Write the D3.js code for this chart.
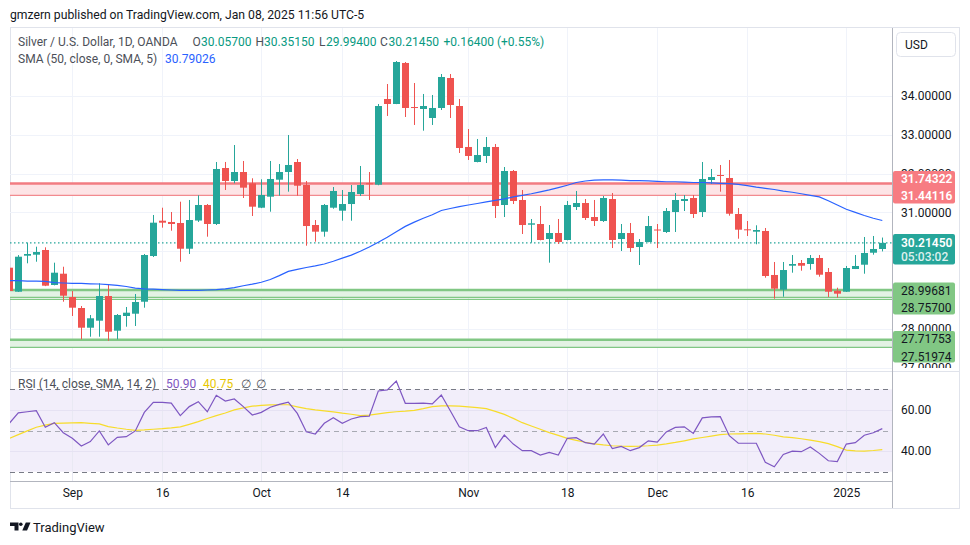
<!DOCTYPE html>
<html>
<head>
<meta charset="utf-8">
<script src="https://cdn.jsdelivr.net/npm/d3@7"></script>
<style>
body { margin: 0; background: #fff; }
svg text { font-family: Roboto, "Noto Sans", sans-serif; }
</style>
</head>
<body>
<svg id="chart" width="970" height="545"></svg>
<script>
// trading days shown (OANDA daily bars)
const dates = [
  "2024-08-22","2024-08-23","2024-08-26","2024-08-27","2024-08-28","2024-08-29","2024-08-30",
  "2024-09-02","2024-09-03","2024-09-04","2024-09-05","2024-09-06","2024-09-09","2024-09-10","2024-09-11","2024-09-12","2024-09-13",
  "2024-09-16","2024-09-17","2024-09-18","2024-09-19","2024-09-20","2024-09-23","2024-09-24","2024-09-25","2024-09-26","2024-09-27","2024-09-30",
  "2024-10-01","2024-10-02","2024-10-03","2024-10-04","2024-10-07","2024-10-08","2024-10-09","2024-10-10","2024-10-11",
  "2024-10-14","2024-10-15","2024-10-16","2024-10-17","2024-10-18","2024-10-21","2024-10-22","2024-10-23","2024-10-24","2024-10-25",
  "2024-10-28","2024-10-29","2024-10-30","2024-10-31",
  "2024-11-01","2024-11-04","2024-11-05","2024-11-06","2024-11-07","2024-11-08","2024-11-11","2024-11-12","2024-11-13","2024-11-14","2024-11-15",
  "2024-11-18","2024-11-19","2024-11-20","2024-11-21","2024-11-22","2024-11-25","2024-11-26","2024-11-27","2024-11-28","2024-11-29",
  "2024-12-02","2024-12-03","2024-12-04","2024-12-05","2024-12-06","2024-12-09","2024-12-10","2024-12-11","2024-12-12","2024-12-13",
  "2024-12-16","2024-12-17","2024-12-18","2024-12-19","2024-12-20","2024-12-23","2024-12-24","2024-12-26","2024-12-27","2024-12-30","2024-12-31",
  "2025-01-02","2025-01-03","2025-01-06","2025-01-07","2025-01-08"
]

const open = [
  29.575, 28.956, 29.884, 29.91, 30.031, 29.129, 29.42, 28.82, 28.536, 28.028,
  28.209, 28.845, 27.951, 28.33, 28.389, 28.698, 29.876, 30.786, 30.753, 30.727,
  30.064, 30.79, 31.191, 30.701, 32.144, 31.809, 32.041, 31.75, 31.121, 31.405,
  31.843, 32.041, 32.299, 31.706, 30.675, 30.503, 31.121, 31.044, 31.216, 31.474,
  31.75, 31.714, 33.923, 33.794, 34.851, 33.716, 33.665, 33.433, 33.691, 34.464,
  33.742, 32.686, 32.299, 32.454, 32.686, 31.191, 32.067, 31.32, 30.683, 30.701,
  30.314, 30.469, 30.289, 31.139, 31.242, 30.881, 30.778, 31.345, 30.314, 30.469,
  30.108, 30.237, 30.559, 30.495, 31.01, 31.294, 31.371, 31.01, 31.835, 31.964,
  31.887, 30.959, 30.564, 30.503, 30.521, 29.387, 29.008, 29.626, 29.696, 29.67,
  29.825, 29.464, 28.982, 28.956, 29.541, 29.652, 29.961, 30.057
]
const high = [
  29.60, 29.90, 30.219, 30.116, 30.10, 29.704, 29.60, 28.974, 28.588, 28.356,
  29.173, 29.129, 28.381, 28.562, 28.897, 29.928, 30.933, 31.121, 31.01, 31.276,
  31.32, 31.441, 31.216, 32.299, 32.30, 32.737, 32.325, 31.879, 31.853, 32.325,
  32.247, 32.995, 32.376, 31.809, 30.804, 31.216, 31.655, 31.577, 31.706, 32.196,
  32.041, 33.794, 34.309, 34.902, 34.876, 34.335, 34.052, 34.026, 34.567, 34.567,
  33.923, 33.149, 32.892, 32.943, 32.763, 32.17, 32.093, 31.577, 30.83, 31.165,
  30.675, 30.83, 31.294, 31.552, 31.345, 31.32, 31.423, 31.50, 30.701, 30.727,
  30.314, 30.907, 30.701, 31.113, 31.50, 31.448, 31.448, 32.299, 32.119, 32.222,
  32.351, 31.113, 30.778, 30.668, 30.598, 29.722, 29.722, 29.902, 29.773, 29.902,
  29.902, 29.567, 29.059, 29.619, 29.902, 30.366, 30.392, 30.3515
]
const low = [
  28.95, 28.95, 29.688, 29.729, 29.10, 29.12, 28.698, 28.33, 27.729, 27.796,
  27.796, 27.693, 27.729, 28.054, 28.072, 28.544, 29.85, 30.606, 30.528, 29.729,
  29.928, 30.753, 30.374, 30.675, 31.577, 31.75, 31.371, 30.907, 31.11, 31.018,
  31.43, 31.534, 31.43, 30.142, 30.245, 30.374, 31.095, 30.786, 30.786, 31.423,
  31.32, 31.70, 33.485, 33.79, 33.459, 33.253, 33.106, 33.253, 33.639, 33.433,
  32.531, 32.351, 32.29, 32.273, 30.856, 30.881, 31.216, 30.443, 30.219, 30.28,
  29.704, 30.186, 30.28, 31.062, 30.804, 30.649, 30.753, 30.082, 30.005, 29.979,
  29.644, 30.23, 30.082, 30.469, 30.495, 31.036, 30.856, 30.881, 31.732, 31.534,
  30.915, 30.322, 30.392, 30.178, 29.317, 28.776, 28.827, 29.446, 29.497, 29.523,
  29.343, 28.82, 28.802, 28.95, 29.54, 29.42, 29.91, 29.994
]
const close = [
  28.974, 29.858, 29.928, 29.979, 29.111, 29.446, 28.853, 28.544, 28.028, 28.271,
  28.845, 27.925, 28.356, 28.415, 28.691, 29.902, 30.735, 30.735, 30.701, 30.064,
  30.804, 31.191, 30.701, 32.119, 31.809, 32.041, 31.637, 31.147, 31.448, 31.861,
  32.041, 32.222, 31.688, 30.649, 30.503, 31.191, 31.552, 31.216, 31.526, 31.706,
  31.724, 33.742, 33.794, 34.876, 33.691, 33.691, 33.742, 33.691, 34.49, 33.768,
  32.66, 32.454, 32.479, 32.686, 31.165, 32.067, 31.294, 30.675, 30.719, 30.289,
  30.469, 30.237, 31.191, 31.242, 30.856, 30.778, 31.371, 30.289, 30.469, 30.082,
  30.237, 30.649, 30.533, 31.036, 31.32, 31.345, 30.959, 31.861, 31.912, 31.946,
  30.966, 30.554, 30.546, 30.546, 29.361, 29.034, 29.515, 29.67, 29.626, 29.825,
  29.394, 28.956, 28.905, 29.567, 29.619, 29.954, 30.057, 30.2145
]

// SMA 50
const sma50 = [
  29.24, 29.24, 29.23, 29.23, 29.22, 29.19, 29.18, 29.17, 29.17, 29.16,
  29.155, 29.14, 29.12, 29.09, 29.05, 29.03, 29.02, 29.01, 29.00, 28.99,
  28.99, 28.99, 29.00, 29.01, 29.03, 29.06, 29.11, 29.15, 29.20, 29.27,
  29.37, 29.48, 29.53, 29.58, 29.62, 29.67, 29.74, 29.82, 29.90, 30.00,
  30.11, 30.23, 30.36, 30.50, 30.64, 30.75, 30.85, 30.94, 31.05, 31.10,
  31.15, 31.19, 31.23, 31.27, 31.31, 31.35, 31.40, 31.44, 31.48, 31.53,
  31.58, 31.64, 31.70, 31.77, 31.81, 31.83, 31.84, 31.84, 31.83, 31.82,
  31.82, 31.81, 31.80, 31.79, 31.79, 31.78, 31.77, 31.77, 31.76, 31.75,
  31.74, 31.72, 31.69, 31.65, 31.62, 31.59, 31.55, 31.52, 31.48, 31.44,
  31.40, 31.30, 31.19, 31.08, 31.00, 30.92, 30.85, 30.79026
]

// RSI 14 and its SMA 14
const rsi = [
  53.5, 58.6, 59.1, 59.6, 51.6, 53.8, 48.9, 46.2, 42.5, 44.6,
  49.8, 43.0, 46.7, 47.0, 49.8, 58.8, 63.7, 63.7, 63.3, 57.2,
  61.6, 64.0, 59.1, 67.1, 64.3, 65.3, 61.6, 57.5, 58.8, 61.3,
  62.7, 63.8, 58.3, 49.4, 48.3, 53.5, 56.2, 53.5, 55.6, 56.7,
  57.0, 69.2, 69.7, 74.0, 63.2, 63.2, 63.3, 62.9, 67.2, 59.6,
  51.8, 49.9, 49.9, 51.5, 41.7, 47.8, 43.4, 40.2, 40.2, 38.1,
  39.4, 38.1, 46.2, 46.5, 44.1, 43.4, 48.3, 41.2, 42.3, 40.2,
  41.7, 45.0, 44.4, 49.3, 51.5, 51.8, 48.6, 56.1, 56.6, 56.7,
  47.5, 43.8, 43.8, 43.8, 34.6, 32.4, 38.4, 40.0, 39.7, 42.0,
  38.9, 35.3, 34.9, 43.4, 44.1, 47.7, 48.9, 50.90
]
const rsiMa = [
  46.2, 48.0, 49.8, 51.6, 52.6, 53.5, 53.6, 53.7, 53.8, 53.5,
  53.2, 51.9, 51.2, 50.6, 50.1, 50.3, 50.6, 50.9, 51.3, 51.8,
  53.0, 54.3, 55.8, 57.2, 58.5, 60.0, 61.0, 61.8, 62.2, 62.4,
  62.5, 62.5, 61.5, 60.6, 60.0, 59.5, 59.0, 58.4, 57.9, 57.2,
  57.5, 58.1, 58.7, 59.1, 59.4, 59.8, 60.6, 61.6, 62.0, 62.0,
  61.8, 61.5, 61.1, 60.6, 59.3, 57.8, 55.9, 53.8, 52.2, 50.6,
  49.0, 47.6, 46.2, 45.2, 44.3, 43.5, 43.0, 42.6, 42.4, 42.3,
  42.4, 42.6, 42.9, 43.5, 44.2, 45.0, 45.9, 46.6, 47.3, 48.0,
  48.3, 48.4, 48.5, 48.6, 48.3, 47.7, 46.9, 46.5, 46.0, 45.3,
  44.6, 43.6, 42.2, 40.5, 40.1, 40.0, 40.3, 40.75
]

const timeTicks = [
  ["2024-09-02", "Sep"], ["2024-09-16", "16"], ["2024-10-01", "Oct"], ["2024-10-14", "14"],
  ["2024-11-01", "Nov"], ["2024-11-18", "18"], ["2024-12-02", "Dec"], ["2024-12-16", "16"],
  ["2025-01-02", "2025"]
]
const priceTicks = [27, 28, 29, 30, 31, 32, 33, 34]
// labels that are not fully covered by the level tags
const priceLabelTicks = [27, 28, 31, 32, 33, 34]
const rsiTicks = [40, 60]
const rsiBands = [70, 50, 30]

// drawn levels
const redZone = [31.74322, 31.44116]
const greenZoneA = [28.99681, 28.81]
const greenLineA = 28.757
const greenZoneB = [27.71753, 27.51974]
const lastClose = 30.2145
const countdown = "05:03:02"

const svg = d3.select("#chart")

const paneL = 10, paneR = 892
const mainTop = 28, mainBot = 371
const rsiTop = 372, rsiBot = 481

const x = d3.scaleLinear().domain([0, dates.length - 1]).range([9.3, 882.3])
const y = d3.scaleLinear().domain([27, 34]).range([367.6, 96])
const r = d3.scaleLinear().domain([30, 70]).range([471.7, 389.3])
const tickIdx = timeTicks.map(t => dates.indexOf(t[0]))

const defs = svg.append("defs")
defs.append("clipPath").attr("id", "clipMain").append("rect")
  .attr("x", paneL).attr("y", mainTop).attr("width", paneR - paneL).attr("height", mainBot - mainTop)
defs.append("clipPath").attr("id", "clipRsi").append("rect")
  .attr("x", paneL).attr("y", rsiTop).attr("width", paneR - paneL).attr("height", rsiBot - rsiTop)
defs.append("clipPath").attr("id", "clipAxis").append("rect")
  .attr("x", paneR).attr("y", mainTop).attr("width", 68).attr("height", 340)

// header
svg.append("text").attr("x", 10).attr("y", 15).attr("dy", "0.35em")
  .attr("font-size", 12.2).attr("fill", "#131722")
  .text("gmzern published on TradingView.com, Jan 08, 2025 11:56 UTC-5")

// frame
svg.append("rect").attr("x", 10.5).attr("y", 27.5).attr("width", 949).attr("height", 481)
  .attr("fill", "none").attr("stroke", "#e0e3eb")

// ---- main pane
const main = svg.append("g").attr("clip-path", "url(#clipMain)")

main.selectAll("line.hgrid").data(priceTicks).join("line")
  .attr("x1", paneL).attr("x2", paneR)
  .attr("y1", d => Math.round(y(d)) + 0.5).attr("y2", d => Math.round(y(d)) + 0.5)
  .attr("stroke", "#f0f3fa")
main.selectAll("line.vgrid").data(tickIdx).join("line")
  .attr("x1", d => Math.round(x(d)) + 0.5).attr("x2", d => Math.round(x(d)) + 0.5)
  .attr("y1", mainTop).attr("y2", mainBot)
  .attr("stroke", "#f0f3fa")

// zones
const zone = (lv, fill) => main.append("rect")
  .attr("x", paneL).attr("width", paneR - paneL)
  .attr("y", y(lv[0])).attr("height", y(lv[1]) - y(lv[0]))
  .attr("fill", fill)
const hline = (v, color, w) => main.append("line")
  .attr("x1", paneL).attr("x2", paneR).attr("y1", y(v)).attr("y2", y(v))
  .attr("stroke", color).attr("stroke-width", w)

zone(redZone, "#fde4e6")
hline(redZone[0], "#f27c82", 2.5)
hline(redZone[1], "#f28a8f", 1.3)
zone(greenZoneA, "#e3f2e4")
hline(greenZoneA[0], "#81c784", 2.5)
hline(greenZoneA[1], "#81c784", 1.3)
hline(greenLineA, "#81c784", 1.3)
zone(greenZoneB, "#e3f2e4")
hline(greenZoneB[0], "#81c784", 2.5)
hline(greenZoneB[1], "#81c784", 1.3)

// last price line
main.append("line").attr("x1", paneL).attr("x2", paneR)
  .attr("y1", y(lastClose)).attr("y2", y(lastClose))
  .attr("stroke", "#26a69a").attr("stroke-width", 1.2).attr("stroke-dasharray", "1.5,2.5")

// candles
const up = i => close[i] >= open[i]
const col = i => up(i) ? "#26a69a" : "#ef5350"
const cx = i => Math.round(x(i))

main.selectAll("line.wick").data(dates).join("line")
  .attr("x1", (d, i) => cx(i) + 0.5).attr("x2", (d, i) => cx(i) + 0.5)
  .attr("y1", (d, i) => y(high[i])).attr("y2", (d, i) => y(low[i]))
  .attr("stroke", (d, i) => col(i))

main.selectAll("rect.body").data(dates).join("rect")
  .attr("x", (d, i) => cx(i) - 3).attr("width", 7)
  .attr("y", (d, i) => y(Math.max(open[i], close[i])))
  .attr("height", (d, i) => Math.max(1, Math.abs(y(open[i]) - y(close[i]))))
  .attr("fill", (d, i) => col(i))

// SMA
main.append("path").datum(sma50)
  .attr("d", d3.line().x((d, i) => x(i)).y(d => y(d)))
  .attr("fill", "none").attr("stroke", "#2962ff").attr("stroke-width", 1.2)

// ---- price axis
const yAxis = svg.append("g").attr("clip-path", "url(#clipAxis)")
  .append("g").attr("transform", "translate(901,0)")
  .call(d3.axisRight(y).tickValues(priceLabelTicks).tickFormat(d3.format(".5f")).tickSize(0).tickPadding(0))
yAxis.select(".domain").remove()
yAxis.selectAll("text").attr("font-size", 12).attr("fill", "#131722")
  .attr("font-family", "Roboto, sans-serif")

// USD button
svg.append("rect").attr("x", 896.5).attr("y", 32.5).attr("width", 59).attr("height", 24).attr("rx", 4)
  .attr("fill", "#fff").attr("stroke", "#e0e3eb")
svg.append("text").attr("x", 905).attr("y", 45).attr("dy", "0.35em")
  .attr("font-size", 12).attr("fill", "#131722").text("USD")

// price labels
const labelBox = (top, h, fill, lines) => {
  svg.append("rect").attr("x", 893).attr("y", top).attr("width", 62).attr("height", h)
    .attr("rx", 2).attr("fill", fill)
  lines.forEach(l => svg.append("text").attr("x", 901).attr("y", l.y).attr("dy", "0.35em")
    .attr("font-size", 12).attr("font-weight", l.w || 400).attr("fill", l.c).text(l.t))
}
const fmt5 = d3.format(".5f")
labelBox(171, 32.5, "#f77c82", [
  { t: fmt5(redZone[0]), y: 178.5, c: "#fff", w: 600 },
  { t: fmt5(redZone[1]), y: 195.5, c: "#fff", w: 600 }])
labelBox(234, 30.5, "#26a69a", [
  { t: fmt5(lastClose), y: 242.8, c: "#fff", w: 600 },
  { t: countdown, y: 256.3, c: "rgba(255,255,255,0.85)", w: 500 }])
labelBox(282.5, 32, "#81c784", [
  { t: fmt5(greenZoneA[0]), y: 290.5, c: "#131722" },
  { t: fmt5(greenLineA), y: 307.3, c: "#131722" }])
labelBox(331, 31.5, "#81c784", [
  { t: fmt5(greenZoneB[0]), y: 339, c: "#131722" },
  { t: fmt5(greenZoneB[1]), y: 356.7, c: "#131722" }])

// ---- RSI pane
const rp = svg.append("g").attr("clip-path", "url(#clipRsi)")
rp.append("rect").attr("x", paneL).attr("width", paneR - paneL)
  .attr("y", r(70)).attr("height", r(30) - r(70)).attr("fill", "#f2eefa")
rp.selectAll("line.vgrid").data(tickIdx).join("line")
  .attr("x1", d => Math.round(x(d)) + 0.5).attr("x2", d => Math.round(x(d)) + 0.5)
  .attr("y1", rsiTop).attr("y2", rsiBot).attr("stroke", "#e9e9f3")
rp.selectAll("line.rgrid").data(rsiTicks).join("line")
  .attr("x1", paneL).attr("x2", paneR)
  .attr("y1", d => Math.round(r(d)) + 0.5).attr("y2", d => Math.round(r(d)) + 0.5)
  .attr("stroke", "#e6e2f3")
rp.selectAll("line.band").data(rsiBands).join("line")
  .attr("x1", paneL).attr("x2", paneR)
  .attr("y1", d => Math.round(r(d)) + 0.5).attr("y2", d => Math.round(r(d)) + 0.5)
  .attr("stroke", d => d === 50 ? "#a8aab3" : "#787b86")
  .attr("stroke-dasharray", "5,4")
rp.append("path").datum(rsiMa)
  .attr("d", d3.line().x((d, i) => x(i)).y(d => r(d)))
  .attr("fill", "none").attr("stroke", "#f7dc2a").attr("stroke-width", 1.2)
rp.append("path").datum(rsi)
  .attr("d", d3.line().x((d, i) => x(i)).y(d => r(d)))
  .attr("fill", "none").attr("stroke", "#7e57c2").attr("stroke-width", 1.2)

const rAxis = svg.append("g").attr("transform", "translate(901,0)")
  .call(d3.axisRight(r).tickValues(rsiTicks).tickFormat(d3.format(".2f")).tickSize(0).tickPadding(0))
rAxis.select(".domain").remove()
rAxis.selectAll("text").attr("font-size", 12).attr("fill", "#131722")
  .attr("font-family", "Roboto, sans-serif")

// separators
svg.append("line").attr("x1", paneL).attr("x2", 959).attr("y1", 371.5).attr("y2", 371.5).attr("stroke", "#e0e3eb")
svg.append("line").attr("x1", paneL).attr("x2", paneR).attr("y1", 481.5).attr("y2", 481.5).attr("stroke", "#b2b5be")
svg.append("line").attr("x1", paneR + 0.5).attr("x2", paneR + 0.5).attr("y1", 28).attr("y2", 508).attr("stroke", "#b2b5be")

// ---- time axis
const xAxis = svg.append("g").attr("transform", "translate(0,488)")
  .call(d3.axisBottom(x).tickValues(tickIdx).tickFormat((d, i) => timeTicks[i][1]).tickSize(0).tickPadding(0))
xAxis.select(".domain").remove()
xAxis.selectAll("text").attr("font-size", 12).attr("fill", "#131722")
  .attr("font-family", "Roboto, sans-serif")

// ---- legends
const legend = (yy, parts) => {
  const t = svg.append("text").attr("y", yy).attr("dy", "0.35em").attr("font-size", 12)
  parts.forEach(p => t.append("tspan").attr("x", p.x).attr("fill", p.c).text(p.t))
}
const grey = "#4c4f58", teal = "#089981"
legend(42, [
  { x: 18, t: "Silver / U.S. Dollar, 1D, OANDA", c: grey },
  { x: 192.5, t: "O", c: grey }, { x: 201, t: fmt5(open[97]), c: teal },
  { x: 255.5, t: "H", c: grey }, { x: 264, t: fmt5(high[97]), c: teal },
  { x: 319, t: "L", c: grey }, { x: 326, t: fmt5(low[97]), c: teal },
  { x: 380, t: "C", c: grey }, { x: 388.5, t: fmt5(close[97]), c: teal },
  { x: 443.5, t: "+0.16400 (+0.55%)", c: teal }
])
legend(59, [
  { x: 18, t: "SMA (50, close, 0, SMA, 5)", c: grey },
  { x: 165, t: fmt5(sma50[97]), c: "#2962ff" }
])
legend(384, [
  { x: 18, t: "RSI (14, close, SMA, 14, 2)", c: grey },
  { x: 166, t: d3.format(".2f")(rsi[97]), c: "#7e57c2" },
  { x: 203, t: d3.format(".2f")(rsiMa[97]), c: "#e8c800" },
  { x: 241, t: "∅", c: grey },
  { x: 256, t: "∅", c: grey }
])

// ---- footer logo
const logo = svg.append("g").attr("fill", "#131722")
logo.append("path").attr("d", "M10 522.5h8.5v8h-4v-4.5h-4.5z")
logo.append("circle").attr("cx", 20.8).attr("cy", 524.3).attr("r", 1.8)
logo.append("path").attr("d", "M22.3 530.5L25.8 522.5H30.5L27 530.5Z")
svg.append("text").attr("x", 33).attr("y", 527).attr("dy", "0.35em")
  .attr("font-size", 13).attr("fill", "#131722").text("TradingView")
</script>
</body>
</html>
